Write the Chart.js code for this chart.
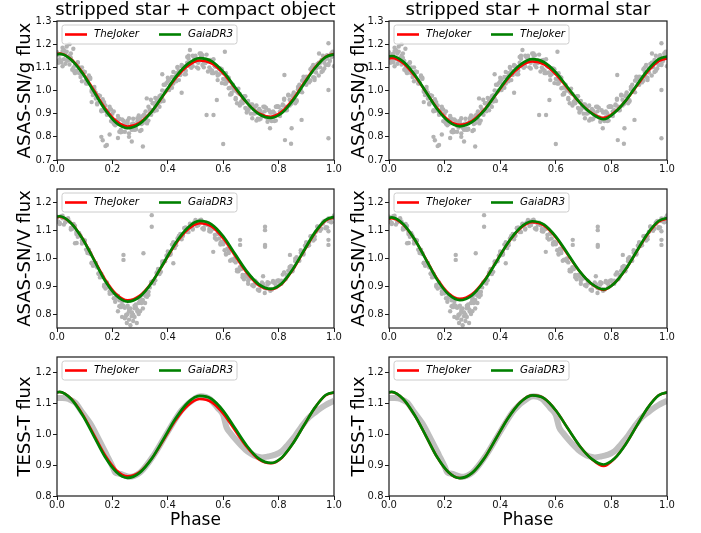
<!DOCTYPE html>
<html>
<head>
<meta charset="utf-8">
<script src="https://cdn.jsdelivr.net/npm/chart.js@4.4.0/dist/chart.umd.min.js"></script>
<style>
  html, body { margin: 0; padding: 0; background: #fff; }
  #fig { position: relative; width: 701px; height: 533px; overflow: hidden; }
  #fig canvas { position: absolute; }
</style>
</head>
<body>
<div id="fig">
  <canvas id="gLeft" width="350" height="180" style="left:0px;top:0px"></canvas>
  <canvas id="gRight" width="365" height="180" style="left:336px;top:0px"></canvas>
  <canvas id="vLeft" width="350" height="180" style="left:0px;top:168px"></canvas>
  <canvas id="vRight" width="365" height="180" style="left:336px;top:168px"></canvas>
  <canvas id="tLeft" width="350" height="197" style="left:0px;top:336px"></canvas>
  <canvas id="tRight" width="365" height="197" style="left:336px;top:336px"></canvas>
</div>
<script>
// ---- tick labels ----
const phaseTicks = [0.0, 0.2, 0.4, 0.6, 0.8, 1.0]
const gTicks = [0.7, 0.8, 0.9, 1.0, 1.1, 1.2, 1.3]
const vTicks = [0.8, 0.9, 1.0, 1.1, 1.2]
const tessTicks = [0.8, 0.9, 1.0, 1.1, 1.2]

// ---- observed phases (ASAS-SN) ----
const obsPhase = [
  0.00,0.01,0.02,0.03,0.04,0.05,0.06,0.07,0.08,0.09,
  0.10,0.11,0.12,0.13,0.14,0.15,0.16,0.17,0.18,0.19,
  0.20,0.21,0.22,0.23,0.24,0.25,0.26,0.27,0.28,0.29,
  0.30,0.31,0.32,0.33,0.34,0.35,0.36,0.37,0.38,0.39,
  0.40,0.41,0.42,0.43,0.44,0.45,0.46,0.47,0.48,0.49,
  0.50,0.51,0.52,0.53,0.54,0.55,0.56,0.57,0.58,0.59,
  0.60,0.61,0.62,0.63,0.64,0.65,0.66,0.67,0.68,0.69,
  0.70,0.71,0.72,0.73,0.74,0.75,0.76,0.77,0.78,0.79,
  0.80,0.81,0.82,0.83,0.84,0.85,0.86,0.87,0.88,0.89,
  0.90,0.91,0.92,0.93,0.94,0.95,0.96,0.97,0.98,0.99,
  1.00
]
const obsPhaseMid = [
  0.005,0.015,0.025,0.035,0.045,0.055,0.065,0.075,0.085,0.095,
  0.105,0.115,0.125,0.135,0.145,0.155,0.165,0.175,0.185,0.195,
  0.205,0.215,0.225,0.235,0.245,0.255,0.265,0.275,0.285,0.295,
  0.305,0.315,0.325,0.335,0.345,0.355,0.365,0.375,0.385,0.395,
  0.405,0.415,0.425,0.435,0.445,0.455,0.465,0.475,0.485,0.495,
  0.505,0.515,0.525,0.535,0.545,0.555,0.565,0.575,0.585,0.595,
  0.605,0.615,0.625,0.635,0.645,0.655,0.665,0.675,0.685,0.695,
  0.705,0.715,0.725,0.735,0.745,0.755,0.765,0.775,0.785,0.795,
  0.805,0.815,0.825,0.835,0.845,0.855,0.865,0.875,0.885,0.895,
  0.905,0.915,0.925,0.935,0.945,0.955,0.965,0.975,0.985,0.995
]

// ---- ASAS-SN g flux ----
const gFluxA = [
  1.165,1.135,1.17,1.115,1.14,1.14,1.085,1.115,1.075,1.10,
  1.08,1.03,1.05,0.98,0.99,0.98,0.915,0.94,0.895,0.92,
  0.90,0.86,0.89,0.83,0.855,0.86,0.815,0.855,0.835,0.88,
  0.88,0.86,0.91,0.87,0.915,0.945,0.915,0.975,0.965,1.025,
  1.04,1.025,1.08,1.04,1.085,1.105,1.07,1.12,1.105,1.15,
  1.15,1.12,1.16,1.10,1.125,1.13,1.075,1.105,1.065,1.095,
  1.075,1.03,1.055,0.985,1.00,0.995,0.935,0.96,0.925,0.955,
  0.94,0.90,0.935,0.875,0.90,0.91,0.865,0.905,0.885,0.93,
  0.93,0.91,0.96,0.915,0.96,0.98,0.95,1.005,0.995,1.05,
  1.06,1.045,1.10,1.055,1.10,1.12,1.085,1.135,1.115,1.16,
  1.16
]
const gFluxB = [
  1.125,1.155,1.105,1.16,1.13,1.16,1.10,1.085,1.10,1.04,
  1.08,1.035,1.055,0.99,0.965,0.975,0.91,0.95,0.905,0.93,
  0.865,0.85,0.87,0.82,0.87,0.84,0.88,0.83,0.83,0.865,
  0.825,0.89,0.875,0.93,0.895,0.91,0.955,0.93,1.00,0.995,
  1.055,1.02,1.03,1.075,1.045,1.11,1.095,1.145,1.105,1.105,
  1.14,1.095,1.15,1.12,1.155,1.10,1.085,1.105,1.045,1.09,
  1.05,1.075,1.01,0.99,1.005,0.945,0.985,0.945,0.975,0.915,
  0.90,0.92,0.87,0.92,0.89,0.93,0.88,0.875,0.91,0.87,
  0.93,0.915,0.965,0.925,0.935,0.975,0.945,1.015,1.005,1.06,
  1.025,1.035,1.08,1.045,1.115,1.10,1.15,1.11,1.11,1.145,
  1.105
]
const gFluxMid = [
  1.155,1.122,1.175,1.128,1.15,1.09,1.11,1.122,1.078,1.078,
  1.03,1.065,1.002,1.015,0.945,0.955,0.962,0.915,0.912,0.868,
  0.91,0.855,0.878,0.822,0.848,0.87,0.84,0.858,0.832,0.892,
  0.855,0.895,0.858,0.902,0.945,0.932,0.965,0.952,1.025,1.00,
  1.048,1.012,1.058,1.098,1.08,1.105,1.085,1.15,1.112,1.148,
  1.10,1.13,1.152,1.118,1.128,1.09,1.135,1.078,1.095,1.032,
  1.048,1.058,1.012,1.012,0.968,1.008,0.948,0.965,0.905,0.925,
  0.94,0.902,0.912,0.878,0.93,0.885,0.915,0.868,0.902,0.932,
  0.91,0.935,0.915,0.982,0.95,0.992,0.958,1.002,1.042,1.028,
  1.058,1.042,1.11,1.078,1.12,1.08,1.12,1.152,1.128,1.148
]
const gFluxMid2 = [
  1.12,1.158,1.135,1.168,1.112,1.128,1.075,1.12,1.058,1.082,
  1.045,1.06,0.995,1.003,0.94,0.977,0.912,0.935,0.898,0.918,
  0.857,0.873,0.822,0.875,0.822,0.86,0.84,0.878,0.835,0.866,
  0.83,0.897,0.862,0.918,0.915,0.968,0.937,0.98,0.955,1.032,
  1.002,1.058,1.052,1.102,1.067,1.103,1.07,1.137,1.098,1.142,
  1.125,1.16,1.11,1.13,1.082,1.132,1.075,1.102,1.07,1.092,
  1.03,1.04,0.982,1.025,0.962,0.988,0.952,0.975,0.917,0.933,
  0.88,0.93,0.878,0.912,0.89,0.925,0.877,0.905,0.868,0.93,
  0.89,0.94,0.93,0.978,0.942,0.98,0.952,1.025,0.992,1.048,
  1.042,1.092,1.057,1.095,1.065,1.132,1.095,1.142,1.128,1.168
]
const gStray = [
  [0.02,1.185],[0.035,1.19],[0.045,1.2],[0.059,1.18],[0.125,0.95],[0.16,0.80],
  [0.165,0.785],[0.175,0.76],[0.18,0.765],[0.19,0.81],[0.22,0.795],[0.26,0.80],
  [0.27,0.78],[0.31,0.758],[0.324,0.966],[0.339,0.96],[0.38,1.07],[0.45,0.99],
  [0.48,1.175],[0.54,0.894],[0.565,0.894],[0.577,0.959],[0.60,0.769],[0.606,1.167],
  [0.769,0.837],[0.821,1.067],[0.823,0.786],[0.845,0.77],[0.847,0.837],[0.883,0.873],
  [0.946,1.16],[0.98,1.204],[0.98,1.002],[0.98,0.794]
]

// ---- ASAS-SN V flux ----
const vFluxA = [
  1.15,1.128,1.145,1.13,1.145,1.11,1.12,1.088,1.09,1.065,
  1.065,1.02,1.02,0.978,0.975,0.945,0.945,0.905,0.91,0.873,
  0.875,0.855,0.865,0.825,0.83,0.798,0.81,0.805,0.83,0.815,
  0.85,0.843,0.875,0.88,0.915,0.91,0.95,0.948,0.98,0.99,
  1.025,1.02,1.055,1.048,1.08,1.08,1.11,1.095,1.125,1.108,
  1.13,1.12,1.14,1.11,1.125,1.098,1.105,1.085,1.09,1.05,
  1.055,1.018,1.02,0.995,1.0,0.96,0.965,0.933,0.94,0.92,
  0.93,0.90,0.915,0.888,0.905,0.895,0.915,0.89,0.915,0.898,
  0.92,0.92,0.95,0.935,0.97,0.958,0.99,0.995,1.03,1.02,
  1.055,1.048,1.08,1.08,1.115,1.10,1.13,1.113,1.135,1.13,
  1.155
]
const vFluxB = [
  1.146,1.124,1.154,1.131,1.136,1.104,1.124,1.096,1.091,1.054,
  1.064,1.026,1.016,0.974,0.984,0.946,0.936,0.899,0.914,0.881,
  0.876,0.844,0.864,0.831,0.826,0.794,0.819,0.806,0.821,0.809,
  0.854,0.851,0.876,0.869,0.914,0.916,0.946,0.944,0.989,0.991,
  1.016,1.014,1.059,1.056,1.081,1.069,1.109,1.101,1.121,1.104,
  1.139,1.121,1.131,1.104,1.129,1.106,1.106,1.074,1.089,1.056,
  1.051,1.014,1.029,0.996,0.991,0.954,0.969,0.941,0.941,0.909,
  0.929,0.906,0.911,0.884,0.914,0.896,0.906,0.884,0.919,0.906,
  0.921,0.909,0.949,0.941,0.966,0.954,0.999,0.996,1.021,1.014,
  1.059,1.056,1.081,1.069,1.114,1.106,1.126,1.109,1.144,1.131,
  1.146
]
const vFluxMid = [
  1.132,1.152,1.122,1.136,1.133,1.107,1.117,1.078,1.081,1.068,
  1.032,1.032,0.985,0.984,0.968,0.932,0.934,0.892,0.896,0.885,
  0.857,0.867,0.828,0.832,0.823,0.80,0.82,0.798,0.824,0.84,
  0.84,0.875,0.862,0.896,0.918,0.922,0.962,0.952,0.989,1.01,
  1.012,1.05,1.038,1.072,1.088,1.082,1.112,1.095,1.122,1.13,
  1.117,1.137,1.108,1.122,1.12,1.097,1.107,1.068,1.072,1.06,
  1.03,1.035,0.992,0.996,0.986,0.954,0.962,0.925,0.934,0.928,
  0.904,0.92,0.888,0.904,0.908,0.892,0.912,0.888,0.912,0.92,
  0.912,0.942,0.925,0.956,0.973,0.97,1.005,0.992,1.026,1.046,
  1.045,1.08,1.065,1.096,1.113,1.107,1.135,1.112,1.136,1.146
]
const vStray = [
  [0.215,0.86],[0.225,0.85],[0.235,0.845],[0.30,0.86],[0.31,0.87],[0.32,0.865],[0.33,0.88],
  [0.22,0.81],[0.235,0.79],[0.245,0.785],[0.252,0.768],[0.26,0.78],[0.265,0.76],[0.27,0.792],
  [0.275,0.775],[0.28,0.79],[0.288,0.768],[0.295,0.80],[0.30,0.81],[0.31,0.82],[0.318,0.84],
  [0.255,0.83],[0.285,0.835],
  [0.065,1.055],[0.071,1.056],[0.125,0.983],[0.24,1.013],[0.24,0.995],[0.312,1.019],
  [0.342,1.156],[0.342,1.114],[0.42,0.983],[0.444,1.078],[0.564,1.024],[0.661,1.067],
  [0.661,1.049],[0.751,1.114],[0.751,1.102],[0.751,1.049],[0.751,1.042],[0.744,0.936],
  [0.75,0.876],[0.841,1.013],[0.98,1.067],[0.98,1.049],[0.98,1.098]
]

// ---- TESS band ----
const tessPhase = [
  0.000,0.020,0.042,0.066,0.090,0.120,0.150,0.180,0.200,0.210,0.225,0.240,0.260,0.300,
  0.350,0.400,0.450,0.500,0.520,0.550,0.580,0.600,0.612,0.625,0.650,0.680,0.700,0.720,
  0.740,0.763,0.785,0.812,0.835,0.860,0.883,0.910,0.931,0.950,0.967,0.985,1.000
]
const tessFlux = [
  1.117,1.117,1.114,1.102,1.072,1.035,0.985,0.932,0.896,0.876,0.872,0.868,0.862,0.876,
  0.933,1.008,1.078,1.117,1.123,1.115,1.085,1.062,1.022,1.005,0.978,0.95,0.937,0.928,
  0.925,0.928,0.933,0.945,0.968,0.995,1.025,1.055,1.07,1.083,1.093,1.102,1.108
]

// ---- model curves ----
const modelPhase = [
  -0.030,0.010,0.051,0.092,0.133,0.173,0.214,0.255,0.298,0.342,0.385,0.428,0.472,
  0.515,0.558,0.601,0.643,0.686,0.729,0.772,0.812,0.851,0.891,0.931,0.970,1.010
]
const gJokerL = [1.146,1.160,1.135,1.078,1.001,0.925,0.868,0.845,0.861,0.910,0.980,1.052,1.106,1.130,1.117,1.073,1.010,0.946,0.901,0.887,0.909,0.961,1.031,1.099,1.146,1.160]
const gGaiaL  = [1.144,1.158,1.133,1.074,0.995,0.918,0.860,0.838,0.856,0.909,0.983,1.058,1.115,1.140,1.127,1.080,1.014,0.947,0.898,0.882,0.903,0.956,1.027,1.096,1.144,1.158]
const gJokerR = [1.127,1.140,1.118,1.064,0.994,0.924,0.872,0.852,0.868,0.916,0.983,1.051,1.103,1.125,1.113,1.069,1.009,0.948,0.903,0.882,0.907,0.955,1.019,1.082,1.127,1.140]
const gJoker2R = [1.135,1.149,1.125,1.069,0.994,0.920,0.866,0.845,0.863,0.913,0.985,1.057,1.111,1.135,1.122,1.077,1.013,0.948,0.901,0.876,0.905,0.955,1.023,1.089,1.135,1.149]
const vJokerL = [1.137,1.150,1.127,1.072,0.998,0.926,0.872,0.850,0.866,0.914,0.982,1.052,1.104,1.127,1.115,1.071,1.010,0.948,0.903,0.889,0.909,0.959,1.026,1.091,1.137,1.150]
const vGaiaL  = [1.139,1.152,1.127,1.071,0.996,0.921,0.867,0.845,0.862,0.913,0.984,1.056,1.111,1.135,1.123,1.079,1.016,0.953,0.907,0.891,0.911,0.961,1.028,1.094,1.139,1.152]
const vJokerR = [1.132,1.145,1.122,1.069,0.998,0.927,0.875,0.855,0.871,0.920,0.987,1.056,1.108,1.130,1.118,1.075,1.014,0.953,0.908,0.887,0.912,0.960,1.025,1.088,1.132,1.145]
const vGaiaR  = [1.135,1.148,1.124,1.069,0.996,0.924,0.871,0.850,0.867,0.917,0.986,1.057,1.111,1.134,1.122,1.078,1.017,0.954,0.909,0.889,0.912,0.961,1.026,1.091,1.135,1.148]
const tJokerL = [1.126,1.137,1.115,1.065,0.999,0.933,0.884,0.864,0.878,0.921,0.982,1.045,1.093,1.114,1.104,1.066,1.012,0.958,0.918,0.906,0.924,0.969,1.028,1.086,1.126,1.137]
const tGaiaL  = [1.127,1.137,1.114,1.062,0.994,0.927,0.878,0.859,0.875,0.921,0.985,1.051,1.102,1.124,1.114,1.075,1.019,0.962,0.921,0.907,0.925,0.969,1.028,1.086,1.127,1.137]
const tJokerR = [1.126,1.137,1.114,1.062,0.994,0.926,0.877,0.858,0.874,0.921,0.986,1.052,1.103,1.126,1.116,1.076,1.019,0.962,0.920,0.897,0.922,0.967,1.027,1.086,1.126,1.137]
const tGaiaR  = [1.126,1.137,1.114,1.062,0.994,0.926,0.877,0.858,0.874,0.921,0.986,1.052,1.103,1.126,1.116,1.076,1.019,0.962,0.920,0.902,0.922,0.967,1.027,1.086,1.126,1.137]

const FONT = "DejaVu Sans"
const RED = "rgb(255, 0, 0)"
const GREEN = "rgb(0, 128, 0)"
const DOT = "#b3b3b3"

const toPoints = (xs, ys) => xs.map((x, i) => ({ x: x, y: ys[i] }))
const pairPoints = list => list.map(p => ({ x: p[0], y: p[1] }))

// frame, inset legend and column title, drawn over the data like matplotlib does
function panelDecor(title, items) {
  return {
    id: "panelDecor",
    afterDatasetsDraw(chart) {
      const { ctx, chartArea: a } = chart
      ctx.save()
      ctx.strokeStyle = "#1a1a1a"
      ctx.lineWidth = 1.2
      ctx.strokeRect(a.left, a.top, a.right - a.left, a.bottom - a.top)

      const bx = a.left + 5, by = a.top + 4, bw = 175, bh = 19, r = 2.5
      ctx.beginPath()
      ctx.moveTo(bx + r, by)
      ctx.lineTo(bx + bw - r, by)
      ctx.quadraticCurveTo(bx + bw, by, bx + bw, by + r)
      ctx.lineTo(bx + bw, by + bh - r)
      ctx.quadraticCurveTo(bx + bw, by + bh, bx + bw - r, by + bh)
      ctx.lineTo(bx + r, by + bh)
      ctx.quadraticCurveTo(bx, by + bh, bx, by + bh - r)
      ctx.lineTo(bx, by + r)
      ctx.quadraticCurveTo(bx, by, bx + r, by)
      ctx.closePath()
      ctx.fillStyle = "rgba(255, 255, 255, 0.8)"
      ctx.fill()
      ctx.strokeStyle = "#cccccc"
      ctx.lineWidth = 1
      ctx.stroke()

      ctx.font = "italic 10.3px '" + FONT + "'"
      ctx.textBaseline = "middle"
      ctx.textAlign = "left"
      items.forEach((item, i) => {
        const lx = a.left + 8 + i * 94
        const cy = a.top + 13.5
        ctx.strokeStyle = item.color
        ctx.lineWidth = 2.6
        ctx.beginPath()
        ctx.moveTo(lx, cy)
        ctx.lineTo(lx + 22, cy)
        ctx.stroke()
        ctx.fillStyle = "#000"
        ctx.fillText(item.text, lx + 29, cy)
      })

      if (title) {
        ctx.font = "18px '" + FONT + "'"
        ctx.textAlign = "center"
        ctx.fillStyle = "#000"
        ctx.fillText(title, (a.left + a.right) / 2, a.top - 11)
      }
      ctx.restore()
    }
  }
}

function buildPanel(p) {
  const ctx = document.getElementById(p.id).getContext("2d")
  const datasets = [
    {
      label: p.greenLabel, data: toPoints(modelPhase, p.green), showLine: true,
      borderColor: GREEN, borderWidth: 2.7, pointRadius: 0,
      cubicInterpolationMode: "monotone", order: 0, clip: 0
    },
    {
      label: "TheJoker", data: toPoints(modelPhase, p.red), showLine: true,
      borderColor: RED, borderWidth: 2.5, pointRadius: 0,
      cubicInterpolationMode: "monotone", order: 1, clip: 0
    }
  ]
  if (p.band) {
    datasets.push({
      data: p.band, showLine: true, borderColor: "#bfbfbf", borderWidth: 6,
      pointRadius: 0, cubicInterpolationMode: "monotone", order: 2, clip: 0
    })
  }
  (p.dots || []).forEach(set => {
    datasets.push({
      data: set, pointRadius: 2.2, pointBorderWidth: 0,
      backgroundColor: DOT, borderColor: DOT, order: 2, clip: 0
    })
  })

  const tickFont = { family: FONT, size: 10, lineHeight: 1 }
  return new Chart(ctx, {
    type: "scatter",
    data: { datasets: datasets },
    options: {
      responsive: false,
      animation: false,
      events: [],
      layout: { padding: { top: 21, right: p.padRight, left: 0, bottom: 0 } },
      plugins: { legend: { display: false }, tooltip: { enabled: false } },
      scales: {
        x: {
          type: "linear", min: 0, max: 1,
          afterBuildTicks: s => { s.ticks = phaseTicks.map(v => ({ value: v })) },
          afterFit: s => { s.height = p.xHeight },
          grid: { drawOnChartArea: false, drawTicks: true, tickLength: 4, tickColor: "#1a1a1a", tickWidth: 1 },
          border: { display: false },
          ticks: { font: tickFont, color: "#111", padding: 0, maxRotation: 0, autoSkip: false, callback: v => v.toFixed(1) },
          title: {
            display: !!p.xTitle, text: p.xTitle || "", color: "#000",
            font: { family: FONT, size: 17, lineHeight: 1 }, padding: { top: 0, bottom: 4 }
          }
        },
        y: {
          min: p.yMin, max: p.yMax,
          afterBuildTicks: s => { s.ticks = p.yTicks.map(v => ({ value: v })) },
          afterFit: s => { s.width = p.yWidth },
          grid: { drawOnChartArea: false, drawTicks: true, tickLength: 4, tickColor: "#1a1a1a", tickWidth: 1 },
          border: { display: false },
          ticks: { font: tickFont, color: "#111", padding: 1.5, autoSkip: false, callback: v => v.toFixed(1) },
          title: {
            display: true, text: p.yTitle, color: "#000",
            font: { family: FONT, size: 18, lineHeight: 1 }, padding: { top: p.yTitlePad, bottom: 0 }
          }
        }
      }
    },
    plugins: [panelDecor(p.title, [
      { text: "TheJoker", color: RED },
      { text: p.greenLabel, color: GREEN }
    ])]
  })
}

const gDots = [
  toPoints(obsPhase, gFluxA), toPoints(obsPhase, gFluxB),
  toPoints(obsPhaseMid, gFluxMid), toPoints(obsPhaseMid, gFluxMid2), pairPoints(gStray)
]
const vDots = [
  toPoints(obsPhase, vFluxA), toPoints(obsPhase, vFluxB),
  toPoints(obsPhaseMid, vFluxMid), pairPoints(vStray)
]
const tessBand = toPoints(tessPhase, tessFlux)

const left = { padRight: 16, yWidth: 57, yTitlePad: 16 }
const right = { padRight: 34, yWidth: 53, yTitlePad: 14.5 }

buildPanel(Object.assign({}, left, {
  id: "gLeft", title: "stripped star + compact object", yTitle: "ASAS-SN/g flux",
  yMin: 0.7, yMax: 1.3, yTicks: gTicks, xHeight: 20,
  red: gJokerL, green: gGaiaL, greenLabel: "GaiaDR3", dots: gDots
}))
buildPanel(Object.assign({}, right, {
  id: "gRight", title: "stripped star + normal star", yTitle: "ASAS-SN/g flux",
  yMin: 0.7, yMax: 1.3, yTicks: gTicks, xHeight: 20,
  red: gJokerR, green: gJoker2R, greenLabel: "TheJoker", dots: gDots
}))
buildPanel(Object.assign({}, left, {
  id: "vLeft", yTitle: "ASAS-SN/V flux",
  yMin: 0.75, yMax: 1.25, yTicks: vTicks, xHeight: 20,
  red: vJokerL, green: vGaiaL, greenLabel: "GaiaDR3", dots: vDots
}))
buildPanel(Object.assign({}, right, {
  id: "vRight", yTitle: "ASAS-SN/V flux",
  yMin: 0.75, yMax: 1.25, yTicks: vTicks, xHeight: 20,
  red: vJokerR, green: vGaiaR, greenLabel: "GaiaDR3", dots: vDots
}))
buildPanel(Object.assign({}, left, {
  id: "tLeft", yTitle: "TESS-T flux", xTitle: "Phase",
  yMin: 0.8, yMax: 1.25, yTicks: tessTicks, xHeight: 37,
  red: tJokerL, green: tGaiaL, greenLabel: "GaiaDR3", band: tessBand
}))
buildPanel(Object.assign({}, right, {
  id: "tRight", yTitle: "TESS-T flux", xTitle: "Phase",
  yMin: 0.8, yMax: 1.25, yTicks: tessTicks, xHeight: 37,
  red: tJokerR, green: tGaiaR, greenLabel: "GaiaDR3", band: tessBand
}))
</script>
</body>
</html>
